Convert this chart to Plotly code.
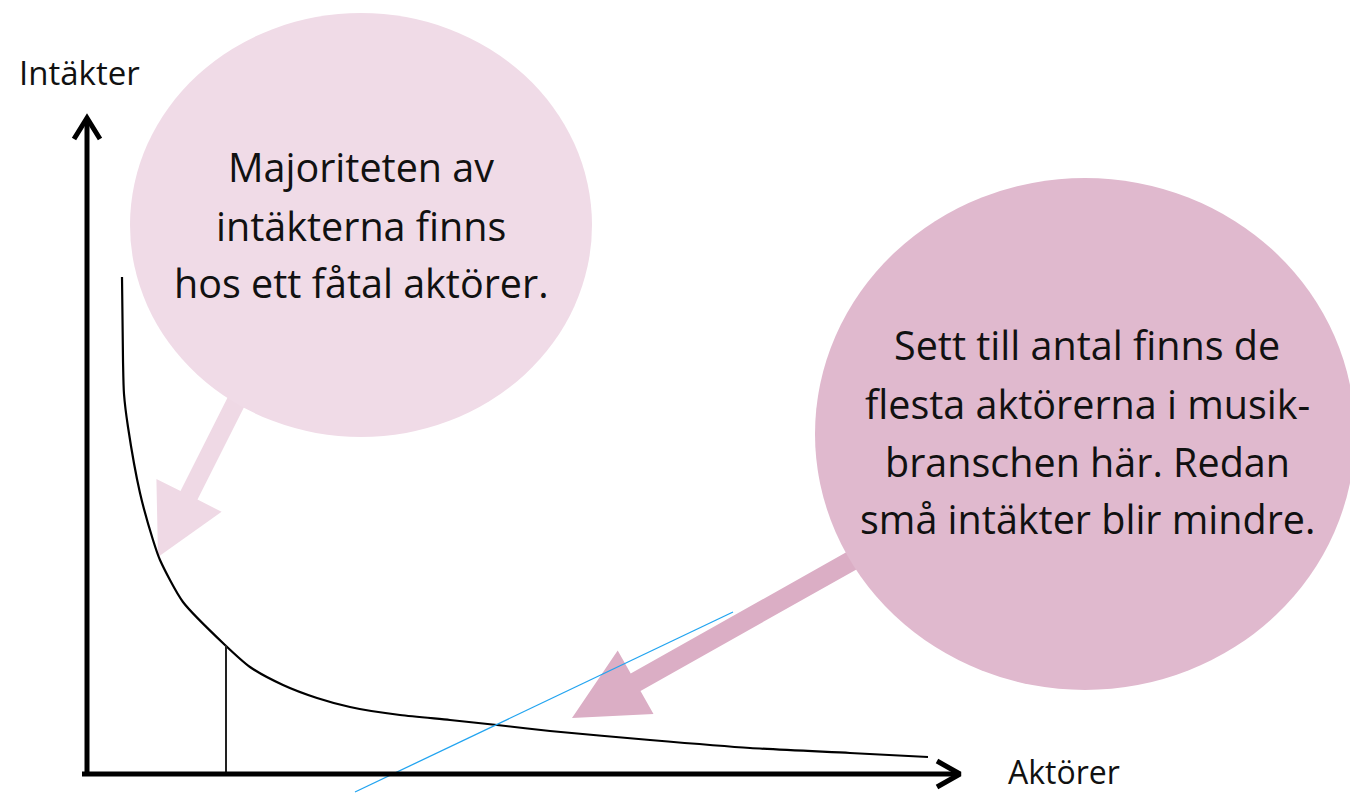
import numpy as np
import plotly.graph_objects as go

# ---- data (diagram units: origin at the axis corner, 1 unit = 1 px) ----
curve_x = [35, 36, 37, 41, 53, 66, 73, 96, 138, 163, 196, 230, 263, 313, 363, 410, 463, 563, 663, 763, 841]
curve_y = [497, 414, 380, 347, 281, 234, 214, 172, 129, 107, 89, 76, 67, 59, 54, 49, 43, 34, 26, 21, 17]

marker_x = [139, 139]
marker_y = [0, 129]

blue_x = [268, 646]
blue_y = [-18, 162]

yaxis_line_x = [0, 0]
yaxis_line_y = [-2, 654]
yaxis_head_x = [-13, 0, 13]
yaxis_head_y = [635, 656, 635]

xaxis_line_x = [-5, 871]
xaxis_line_y = [0, 0]
xaxis_head_x = [850, 873, 850]
xaxis_head_y = [13, 0, -13]

axis_labels = ["Intäkter", "Aktörer"]
axis_label_x = [-8, 977]
axis_label_y = [702, 3]
axis_label_size = [33, 32]

bubble1_center = (274, 549)
bubble1_radii = (231, 212)
bubble1_lines = ["Majoriteten av", "intäkterna finns", "hos ett fåtal aktörer."]
bubble1_line_y = [607, 548, 491]

bubble2_center = (998, 340)
bubble2_radii = (270, 256)
bubble2_lines = ["Sett till antal finns de", "flesta aktörerna i musik-",
                 "branschen här. Redan", "små intäkter blir mindre."]
bubble2_line_y = [429, 370, 312, 255]

# arrow specs: start, tip, shaft width, head width, head length
arrow1 = dict(start=(151, 376), tip=(71, 217), shaft=19, head_w=73, head_l=69)
arrow2 = dict(start=(773, 218), tip=(485, 56), shaft=20, head_w=73, head_l=73)

C_B1 = "#F0DBE7"
C_A1 = "#EFD9E5"
C_B2 = "#E0B9CE"
C_A2 = "#DBAEC5"
FONT = "Open Sans"


def arrow_path(spec):
    sx, sy = spec["start"]
    tx, ty = spec["tip"]
    d = np.array([tx - sx, ty - sy], dtype=float)
    L = np.hypot(*d)
    d /= L
    n = np.array([-d[1], d[0]])
    s = np.array([sx, sy], dtype=float)
    t = np.array([tx, ty], dtype=float)
    b = t - d * spec["head_l"]
    hs = spec["shaft"] / 2
    hw = spec["head_w"] / 2
    pts = [s + n * hs, b + n * hs, b + n * hw, t, b - n * hw, b - n * hs, s - n * hs]
    return "M " + " L ".join(f"{p[0]:.1f},{p[1]:.1f}" for p in pts) + " Z"


fig = go.Figure()

shapes = [
    dict(type="path", path=arrow_path(arrow1), fillcolor=C_A1, line=dict(width=0), layer="below"),
    dict(type="circle", x0=bubble1_center[0] - bubble1_radii[0], x1=bubble1_center[0] + bubble1_radii[0],
         y0=bubble1_center[1] - bubble1_radii[1], y1=bubble1_center[1] + bubble1_radii[1],
         fillcolor=C_B1, line=dict(width=0), layer="below"),
    dict(type="path", path=arrow_path(arrow2), fillcolor=C_A2, line=dict(width=0), layer="below"),
    dict(type="circle", x0=bubble2_center[0] - bubble2_radii[0], x1=bubble2_center[0] + bubble2_radii[0],
         y0=bubble2_center[1] - bubble2_radii[1], y1=bubble2_center[1] + bubble2_radii[1],
         fillcolor=C_B2, line=dict(width=0), layer="below"),
]

fig.add_trace(go.Scatter(x=curve_x, y=curve_y, mode="lines",
                         line=dict(color="black", width=2.2, shape="spline", smoothing=0.7),
                         hoverinfo="skip"))
fig.add_trace(go.Scatter(x=marker_x, y=marker_y, mode="lines",
                         line=dict(color="#222222", width=2), hoverinfo="skip"))
fig.add_trace(go.Scatter(x=blue_x, y=blue_y, mode="lines",
                         line=dict(color="#22A4F0", width=1.3), hoverinfo="skip"))
for xs, ys in [(yaxis_line_x, yaxis_line_y), (yaxis_head_x, yaxis_head_y),
               (xaxis_line_x, xaxis_line_y), (xaxis_head_x, xaxis_head_y)]:
    fig.add_trace(go.Scatter(x=xs, y=ys, mode="lines",
                             line=dict(color="black", width=5), hoverinfo="skip"))

annotations = []
for txt, ax_, ay_, sz in zip(axis_labels, axis_label_x, axis_label_y, axis_label_size):
    annotations.append(dict(x=ax_, y=ay_, text=txt, showarrow=False, xanchor="center", yanchor="middle",
                            font=dict(family=FONT, size=sz, color="#111111")))
for line, ly in zip(bubble1_lines, bubble1_line_y):
    annotations.append(dict(x=bubble1_center[0], y=ly, text=line, showarrow=False,
                            xanchor="center", yanchor="middle",
                            font=dict(family=FONT, size=39.5, color="#111111")))
for line, ly in zip(bubble2_lines, bubble2_line_y):
    annotations.append(dict(x=bubble2_center[0] + 2, y=ly, text=line, showarrow=False,
                            xanchor="center", yanchor="middle",
                            font=dict(family=FONT, size=39.5, color="#111111")))

fig.update_layout(
    width=1350, height=793,
    margin=dict(l=0, r=0, t=0, b=0),
    paper_bgcolor="white", plot_bgcolor="white",
    showlegend=False,
    shapes=shapes,
    annotations=annotations,
    xaxis=dict(range=[-87, 1263], visible=False, fixedrange=True),
    yaxis=dict(range=[-19, 774], visible=False, fixedrange=True),
)

fig.write_html("out.html", config={"displayModeBar": False},
               post_script="document.body.style.margin='0';document.body.style.overflow='hidden';")
